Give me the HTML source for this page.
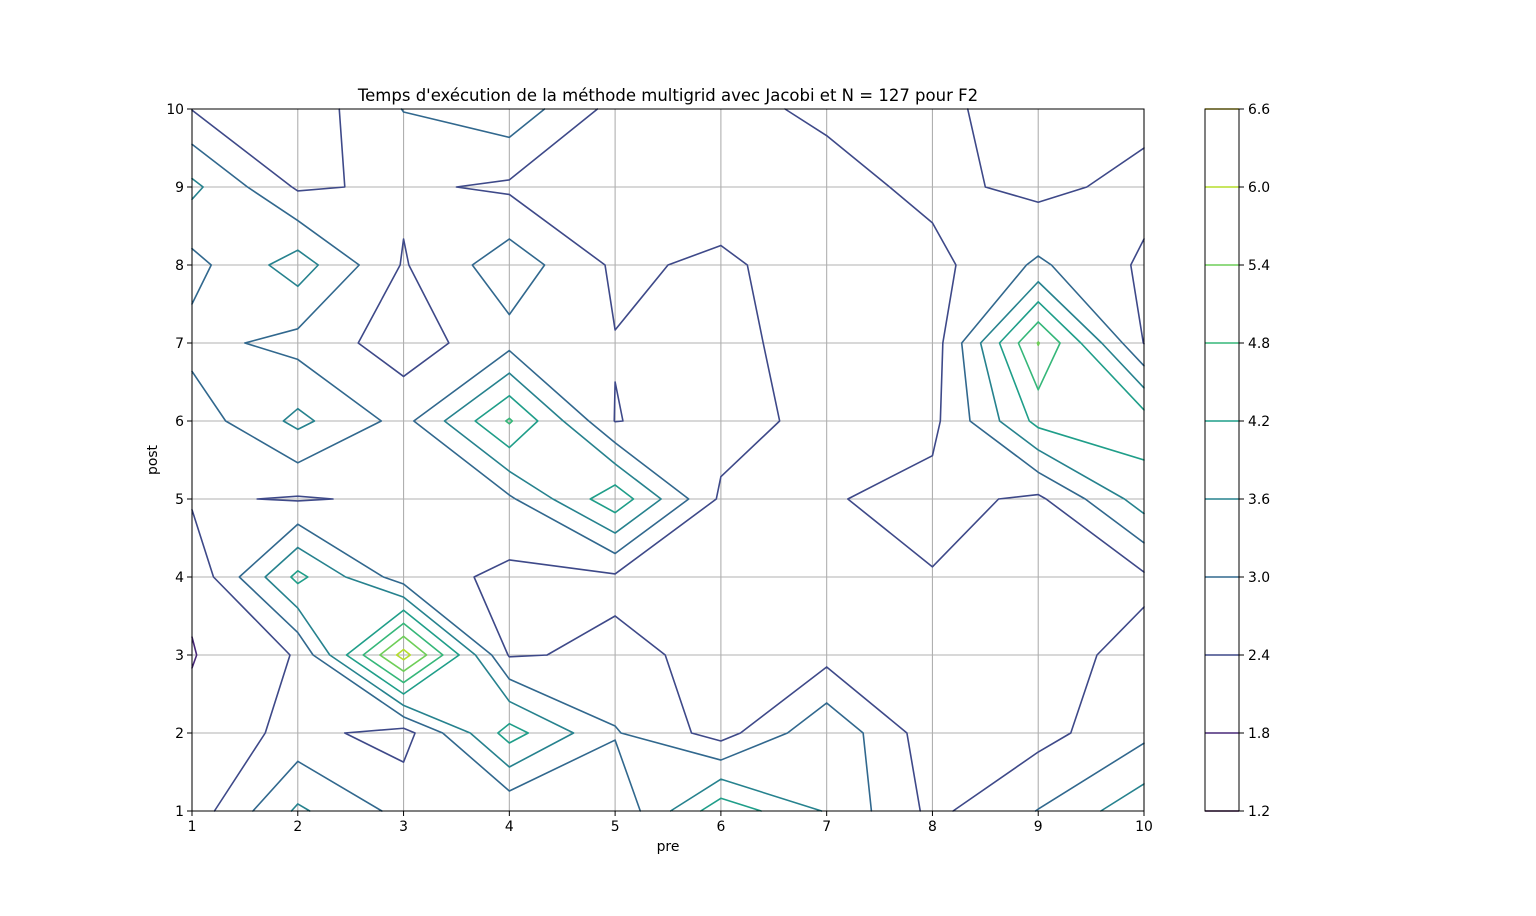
<!DOCTYPE html>
<html><head><meta charset="utf-8">
<style>
html,body{margin:0;padding:0;background:#fff;}
svg text{font-family:"DejaVu Sans","Liberation Sans",sans-serif;fill:#000;}
</style></head>
<body>
<svg id="fig" width="1536" height="911" viewBox="0 0 1536 911" xmlns="http://www.w3.org/2000/svg">
<rect x="0" y="0" width="1536" height="911" fill="#fff"/>
<text x="668" y="101" font-size="16.5" text-anchor="middle">Temps d'exécution de la méthode multigrid avec Jacobi et N = 127 pour F2</text>
<g id="grid"></g>
<g id="contours"></g>
<rect x="192" y="109" width="952" height="702" fill="none" stroke="#000" stroke-width="1"/>
<g id="xticks"></g>
<g id="yticks"></g>
<text x="668" y="851" font-size="13.9" text-anchor="middle">pre</text>
<text x="157" y="460" font-size="13.9" text-anchor="middle" transform="rotate(-90 157 460)">post</text>
<g id="cbar"></g>
</svg>
<script>
const pres = [1,2,3,4,5,6,7,8,9,10];
const posts = [1,2,3,4,5,6,7,8,9,10];
// z values: rows are post = 1..10, columns pre = 1..10
const row1  = [2.05, 3.7, 2.82, 2.5, 2.5, 4.6, 3.55, 2.25, 3.02, 4.0];
const row2  = [1.95, 2.6, 2.15, 4.45, 3.05, 2.15, 3.5, 2.05, 2.2, 2.85];
const row3  = [1.77, 2.45, 6.25, 2.35, 2.49, 2.3, 2.2, 2.2, 2.2, 2.56];
const row4  = [1.9, 4.36, 2.68, 2.26, 2.31, 2.2, 2.2, 2.37, 2.2, 2.3];
const row5  = [2.48, 2.35, 2.5, 2.9, 4.6, 2.3, 2.35, 2.6, 2.28, 3.9];
const row6  = [2.65, 3.75, 2.8, 4.87, 2.38, 2.65, 2.2, 2.24, 4.38, 4.5];
const row7  = [3.2, 2.8, 2.1, 2.8, 2.42, 2.6, 2.1, 2.07, 5.43, 2.38];
const row8  = [2.8, 3.9, 2.35, 3.35, 2.3, 2.5, 2.1, 2.2, 3.1, 2.3];
const row9  = [3.75, 2.32, 2.5, 2.3, 2.2, 2.1, 2.15, 2.57, 2.23, 2.6];
const row10 = [2.38, 2.0, 3.02, 3.4, 2.2, 2.2, 2.53, 2.5, 2.2, 2.2];
const levels = [1.2, 1.8, 2.4, 3.0, 3.6, 4.2, 4.8, 5.4, 6.0, 6.6];
const levelColors = ["#440154","#482878","#3e4989","#31688e","#26828e","#1f9e89","#35b779","#6ece58","#b5de2b","#fde725"];
const tickLabels = ["1","2","3","4","5","6","7","8","9","10"];
const cbarLabels = ["1.2","1.8","2.4","3.0","3.6","4.2","4.8","5.4","6.0","6.6"];

const Z = [row1,row2,row3,row4,row5,row6,row7,row8,row9,row10];
const NS = "http://www.w3.org/2000/svg";
const X0=192, X1=1144, Y0=811, Y1=109;
function xs(v){return X0 + (v-1)/(9)*(X1-X0);}
function ys(v){return Y0 - (v-1)/(9)*(Y0-Y1);}
function mk(tag, attrs, parent){const e=document.createElementNS(NS,tag);for(const k in attrs)e.setAttribute(k,attrs[k]);parent.appendChild(e);return e;}

const grid=document.getElementById('grid'), xt=document.getElementById('xticks'), yt=document.getElementById('yticks');
pres.forEach((p,i)=>{
  const x=xs(p);
  const gl=mk('line',{x1:x,y1:Y1,x2:x,y2:Y0,stroke:'#b0b0b0','stroke-width':1.1},grid);
  
  
  const tk=mk('line',{x1:x,y1:Y0,x2:x,y2:Y0+5,stroke:'#000','stroke-width':1},xt);
  
  
  const tl=mk('text',{x:x,y:Y0+20,'font-size':13.9,'text-anchor':'middle'},xt);
  tl.textContent=tickLabels[i];
  
  
});
posts.forEach((p,i)=>{
  const y=ys(p);
  const gl=mk('line',{x1:X0,y1:y,x2:X1,y2:y,stroke:'#b0b0b0','stroke-width':1.1},grid);
  
  
  const tk=mk('line',{x1:X0-5,y1:y,x2:X0,y2:y,stroke:'#000','stroke-width':1},yt);
  
  
  const tl=mk('text',{x:X0-8,y:y+5,'font-size':13.9,'text-anchor':'end'},yt);
  tl.textContent=tickLabels[i];
  
  
});

const cg=document.getElementById('contours');
levels.forEach((L,li)=>{
  let d='';
  for(let j=0;j<posts.length-1;j++){
    for(let i=0;i<pres.length-1;i++){
      const a=Z[j][i], b=Z[j][i+1], c=Z[j+1][i+1], e=Z[j+1][i];
      const x0=pres[i], x1=pres[i+1], y0=posts[j], y1=posts[j+1];
      const pts={};
      if((a<L)!==(b<L)){const t=(L-a)/(b-a);pts.B=[x0+t*(x1-x0),y0];}
      if((b<L)!==(c<L)){const t=(L-b)/(c-b);pts.R=[x1,y0+t*(y1-y0)];}
      if((e<L)!==(c<L)){const t=(L-e)/(c-e);pts.T=[x0+t*(x1-x0),y1];}
      if((a<L)!==(e<L)){const t=(L-a)/(e-a);pts.L=[x0,y0+t*(y1-y0)];}
      const keys=Object.keys(pts);
      let segs=[];
      if(keys.length===2){segs.push([pts[keys[0]],pts[keys[1]]]);}
      else if(keys.length===4){
        const mid=(a+b+c+e)/4;
        const aHigh=a>=L;
        if((mid>=L)===aHigh){segs.push([pts.B,pts.R]);segs.push([pts.T,pts.L]);}
        else{segs.push([pts.B,pts.L]);segs.push([pts.T,pts.R]);}
      }
      segs.forEach(s=>{d+='M'+xs(s[0][0]).toFixed(2)+' '+ys(s[0][1]).toFixed(2)+'L'+xs(s[1][0]).toFixed(2)+' '+ys(s[1][1]).toFixed(2);});
    }
  }
  if(d){
    const p=mk('path',{d:d,fill:'none',stroke:levelColors[li],'stroke-width':1.6,'stroke-linecap':'round','stroke-linejoin':'round'},cg);
    
    
  }
});

const cb=document.getElementById('cbar');
const CX0=1205, CX1=1239;
function cy(v){return 811-(v-levels[0])/(levels[levels.length-1]-levels[0])*(811-109);}
levels.forEach((L,li)=>{
  const y=cy(L);
  const ln=mk('line',{x1:CX0,y1:y,x2:CX1,y2:y,stroke:levelColors[li],'stroke-width':1.6},cb);
  
  
  const tk=mk('line',{x1:CX1,y1:y,x2:CX1+5,y2:y,stroke:'#000','stroke-width':1},cb);
  
  
  const tl=mk('text',{x:CX1+9,y:y+5,'font-size':13.9,'text-anchor':'start'},cb);
  tl.textContent=cbarLabels[li];
  
  
});
const fr=mk('rect',{x:CX0,y:109,width:CX1-CX0,height:702,fill:'none',stroke:'#000','stroke-width':1},cb);


</script>
</body></html>
